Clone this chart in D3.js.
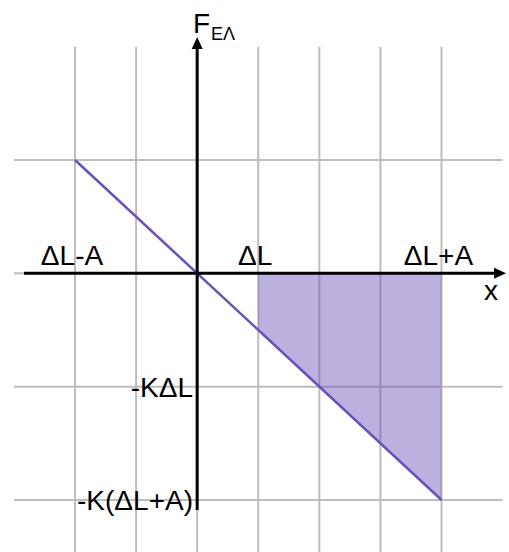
<!DOCTYPE html>
<html>
<head>
<meta charset="utf-8">
<script src="https://cdn.jsdelivr.net/npm/d3@7"></script>
<style>
  html, body { margin: 0; padding: 0; background: #fff; }
  svg { display: block; }
  text { font-family: "Liberation Sans", Arial, sans-serif; fill: #000; }
</style>
</head>
<body>
<div id="chart"></div>
<script>
// grid positions (in grid units)
const xGrid = [-2, -1, 0, 1, 2, 3, 4];
const yGrid = [1, 0, -1, -2];

// F = -K x line and shaded work region
const forceLine = [{ x: -2, y: 1 }, { x: 4, y: -2 }];
const workArea = [{ x: 1, top: 0, bottom: -0.5 }, { x: 4, top: 0, bottom: -2 }];

// tick labels
const xLabels = [{ x: -2, text: "ΔL-A" }, { x: 1, text: "ΔL" }, { x: 4, text: "ΔL+A" }];
const yLabels = [{ y: -1, text: "-KΔL" }, { y: -2, text: "-K(ΔL+A)" }];

const width = 509, height = 552;

const x = d3.scaleLinear().domain([-2, 4]).range([75, 441.5]);
const y = d3.scaleLinear().domain([1, -2]).range([160, 500]);

const svg = d3.select("#chart").append("svg")
  .attr("width", width)
  .attr("height", height);

// grid
const grid = svg.append("g").attr("stroke", "#bdbdbd").attr("stroke-width", 2);
grid.selectAll(".vg").data(xGrid).join("line")
  .attr("x1", d => x(d)).attr("x2", d => x(d))
  .attr("y1", y(2)).attr("y2", height);
grid.selectAll(".hg").data(yGrid).join("line")
  .attr("y1", d => y(d)).attr("y2", d => y(d))
  .attr("x1", x(-3)).attr("x2", x(5));

// shaded area
const area = d3.area()
  .x(d => x(d.x))
  .y0(d => y(d.top))
  .y1(d => y(d.bottom));
svg.append("path")
  .datum(workArea)
  .attr("d", area)
  .attr("fill", "#6a4fb8")
  .attr("fill-opacity", 0.45);

// force line
const line = d3.line().x(d => x(d.x)).y(d => y(d.y));
svg.append("path")
  .datum(forceLine)
  .attr("d", line)
  .attr("fill", "none")
  .attr("stroke", "#6a50bc")
  .attr("stroke-width", 2.5);

// axes
const axes = svg.append("g").attr("stroke", "#000").attr("stroke-width", 3);
axes.append("line")
  .attr("x1", 24).attr("x2", 496)
  .attr("y1", y(0)).attr("y2", y(0));
axes.append("line")
  .attr("x1", x(0)).attr("x2", x(0))
  .attr("y1", 510).attr("y2", 46);
svg.append("path")
  .attr("d", `M506,${y(0)} L494,${y(0) - 5.5} L494,${y(0) + 5.5} Z`)
  .attr("fill", "#000");
svg.append("path")
  .attr("d", `M${x(0)},37 L${x(0) - 5.5},49 L${x(0) + 5.5},49 Z`)
  .attr("fill", "#000");

// axis titles
const ft = svg.append("text")
  .attr("x", 193).attr("y", 33)
  .style("font-size", "28px");
ft.append("tspan").text("F");
ft.append("tspan").attr("dy", 7).attr("dx", 1).style("font-size", "18px").text("ΕΛ");

svg.append("text")
  .attr("x", 484).attr("y", 300)
  .style("font-size", "28px")
  .text("x");

// tick labels
svg.selectAll(".xl").data(xLabels).join("text")
  .attr("x", d => x(d.x) - 3)
  .attr("y", 265)
  .attr("text-anchor", "middle")
  .style("font-size", "28px")
  .text(d => d.text);

svg.selectAll(".yl").data(yLabels).join("text")
  .attr("x", 193)
  .attr("y", d => y(d.y) + 10)
  .attr("text-anchor", "end")
  .style("font-size", "28px")
  .text(d => d.text);
</script>
</body>
</html>
